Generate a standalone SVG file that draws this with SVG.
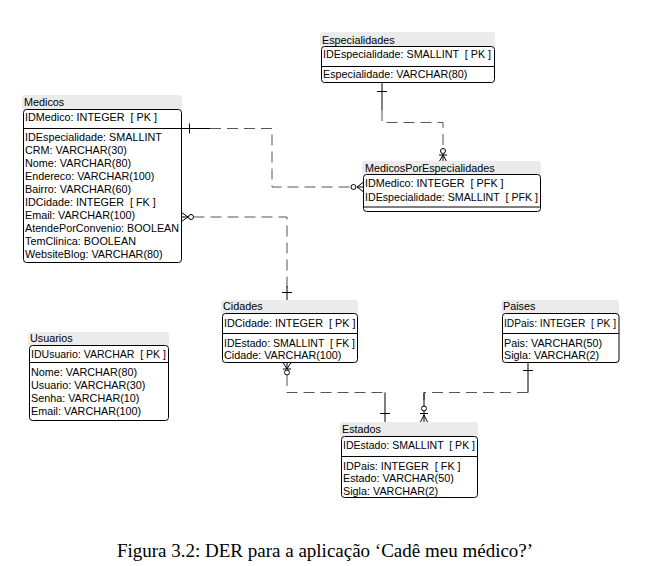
<svg xmlns="http://www.w3.org/2000/svg" width="656" height="566" viewBox="0 0 656 566">
<style>
  text { font-family: "Liberation Sans", Arial, sans-serif; font-size: 10.8px; fill: #000; white-space: pre; }
  .cap { font-family: "Liberation Serif", "Times New Roman", serif; font-size: 19px; }
  .tbar { fill: #ebebeb; stroke: none; }
  .box { fill: #fff; stroke: #000; stroke-width: 1; }
  .sep { stroke: #000; stroke-width: 1; fill: none; }
  .solid { stroke: #000; stroke-width: 1; fill: none; }
  .dash { stroke: #555; stroke-width: 1; fill: none; stroke-dasharray: 11 6; }
  .circ { fill: #fff; stroke: #000; stroke-width: 1; }
</style>
<rect width="656" height="566" fill="#fff"/>

<g id="connectors">
  <!-- Especialidades -> MedicosPorEspecialidades -->
  <path class="solid" d="M382,82.5 V110"/>
  <path class="solid" d="M377,91.5 H387"/>
  <path class="dash" d="M382,110 V122.5 H443 V148"/>
  <path class="solid" d="M443,154 V162 M439,162 L443,155 L447,162 M439,155 H447"/>
  <circle class="circ" cx="443" cy="151" r="2.5"/>

  <!-- Medicos -> MedicosPorEspecialidades -->
  <path class="solid" d="M181.5,128.5 H210"/>
  <path class="solid" d="M189.5,123.5 V133.5"/>
  <path class="dash" d="M210,128.5 H272 V187 H351"/>
  <path class="solid" d="M357,187 H363 M363,182.5 L357,187 L363,191.5"/>
  <circle class="circ" cx="353.5" cy="187" r="2.5"/>

  <!-- Medicos -> Cidades -->
  <path class="solid" d="M181.5,212.5 L188,217 L181.5,221.5 M181.5,217 H188"/>
  <circle class="circ" cx="191" cy="217" r="2.5"/>
  <path class="dash" d="M193.5,217 H287 V290"/>
  <path class="solid" d="M287,286 V301"/>
  <path class="solid" d="M282,292.5 H292"/>

  <!-- Cidades -> Estados -->
  <path class="solid" d="M283,362.5 L287,369 L291,362.5 M287,362.5 V369 M283,369 H291"/>
  <circle class="circ" cx="287" cy="372.5" r="2.5"/>
  <path class="dash" d="M287,375 V392.5 H385"/>
  <path class="solid" d="M385,392.5 V423"/>
  <path class="solid" d="M380,413.5 H390"/>

  <!-- Paises -> Estados -->
  <path class="solid" d="M528,362.5 V392.5"/>
  <path class="solid" d="M523,370.5 H533"/>
  <path class="dash" d="M528,392.5 H424 V400"/>
  <path class="solid" d="M424,392.5 V406"/>
  <path class="solid" d="M424,411 V423 M420,423 L424,415 L428,423 M420,413.5 H428"/>
  <circle class="circ" cx="424" cy="408.5" r="2.5"/>
</g>

<g id="Especialidades">
  <rect class="tbar" x="320" y="32" width="175" height="15" rx="3"/>
  <text x="322" y="44">Especialidades</text>
  <rect class="box" x="321.5" y="46.5" width="173" height="36" rx="3"/>
  <line class="sep" x1="321.5" y1="66.5" x2="494.5" y2="66.5"/>
  <text x="323" y="58" textLength="168" lengthAdjust="spacingAndGlyphs">IDEspecialidade: SMALLINT  [ PK ]</text>
  <text x="323" y="78">Especialidade: VARCHAR(80)</text>
</g>

<g id="Medicos">
  <rect class="tbar" x="22" y="95" width="160" height="15" rx="3"/>
  <text x="24" y="106">Medicos</text>
  <rect class="box" x="23.5" y="109.5" width="158" height="153" rx="3"/>
  <line class="sep" x1="23.5" y1="128.5" x2="181.5" y2="128.5"/>
  <text x="25" y="121">IDMedico: INTEGER  [ PK ]</text>
  <text x="25" y="141">IDEspecialidade: SMALLINT</text>
  <text x="25" y="154">CRM: VARCHAR(30)</text>
  <text x="25" y="167">Nome: VARCHAR(80)</text>
  <text x="25" y="180">Endereco: VARCHAR(100)</text>
  <text x="25" y="193">Bairro: VARCHAR(60)</text>
  <text x="25" y="206">IDCidade: INTEGER  [ FK ]</text>
  <text x="25" y="219">Email: VARCHAR(100)</text>
  <text x="25" y="232" textLength="154" lengthAdjust="spacingAndGlyphs">AtendePorConvenio: BOOLEAN</text>
  <text x="25" y="245">TemClinica: BOOLEAN</text>
  <text x="25" y="258">WebsiteBlog: VARCHAR(80)</text>
</g>

<g id="MedicosPorEspecialidades">
  <rect class="tbar" x="362" y="161" width="179" height="14" rx="3"/>
  <text x="365" y="172">MedicosPorEspecialidades</text>
  <rect class="box" x="363.5" y="174.5" width="177" height="37" rx="3"/>
  <text x="365" y="187">IDMedico: INTEGER  [ PFK ]</text>
  <text x="365" y="201" textLength="173" lengthAdjust="spacingAndGlyphs">IDEspecialidade: SMALLINT  [ PFK ]</text>
  <line class="sep" x1="363.5" y1="207" x2="540.5" y2="207"/>
</g>

<g id="Cidades">
  <rect class="tbar" x="221" y="300" width="137" height="14" rx="3"/>
  <text x="223" y="310">Cidades</text>
  <rect class="box" x="222.5" y="313.5" width="135" height="49" rx="3"/>
  <line class="sep" x1="222.5" y1="333.5" x2="357.5" y2="333.5"/>
  <text x="224" y="327">IDCidade: INTEGER  [ PK ]</text>
  <text x="224" y="347" textLength="131" lengthAdjust="spacingAndGlyphs">IDEstado: SMALLINT  [ FK ]</text>
  <text x="224" y="359">Cidade: VARCHAR(100)</text>
</g>

<g id="Paises">
  <rect class="tbar" x="501" y="300" width="118" height="14" rx="3"/>
  <text x="503" y="310">Paises</text>
  <rect class="box" x="502.5" y="313.5" width="116.5" height="49" rx="3"/>
  <line class="sep" x1="502.5" y1="333.5" x2="619" y2="333.5"/>
  <text x="504" y="327" textLength="112" lengthAdjust="spacingAndGlyphs">IDPais: INTEGER  [ PK ]</text>
  <text x="504" y="347">Pais: VARCHAR(50)</text>
  <text x="504" y="359">Sigla: VARCHAR(2)</text>
</g>

<g id="Usuarios">
  <rect class="tbar" x="28" y="332" width="141" height="14" rx="3"/>
  <text x="30" y="342">Usuarios</text>
  <rect class="box" x="29.5" y="345.5" width="139" height="75" rx="3"/>
  <line class="sep" x1="29.5" y1="362.5" x2="168.5" y2="362.5"/>
  <text x="31" y="357.5" textLength="135" lengthAdjust="spacingAndGlyphs">IDUsuario: VARCHAR  [ PK ]</text>
  <text x="31" y="376">Nome: VARCHAR(80)</text>
  <text x="31" y="389">Usuario: VARCHAR(30)</text>
  <text x="31" y="402">Senha: VARCHAR(10)</text>
  <text x="31" y="415">Email: VARCHAR(100)</text>
</g>

<g id="Estados">
  <rect class="tbar" x="340" y="422" width="138" height="15" rx="3"/>
  <text x="342" y="433">Estados</text>
  <rect class="box" x="341.5" y="436.5" width="136" height="61" rx="3"/>
  <line class="sep" x1="341.5" y1="456.5" x2="477.5" y2="456.5"/>
  <text x="343" y="449" textLength="132" lengthAdjust="spacingAndGlyphs">IDEstado: SMALLINT  [ PK ]</text>
  <text x="343" y="469.5">IDPais: INTEGER  [ FK ]</text>
  <text x="343" y="482">Estado: VARCHAR(50)</text>
  <text x="343" y="494.5">Sigla: VARCHAR(2)</text>
</g>

<text class="cap" x="325" y="557" text-anchor="middle">Figura 3.2: DER para a aplicação ‘Cadê meu médico?’</text>
</svg>
